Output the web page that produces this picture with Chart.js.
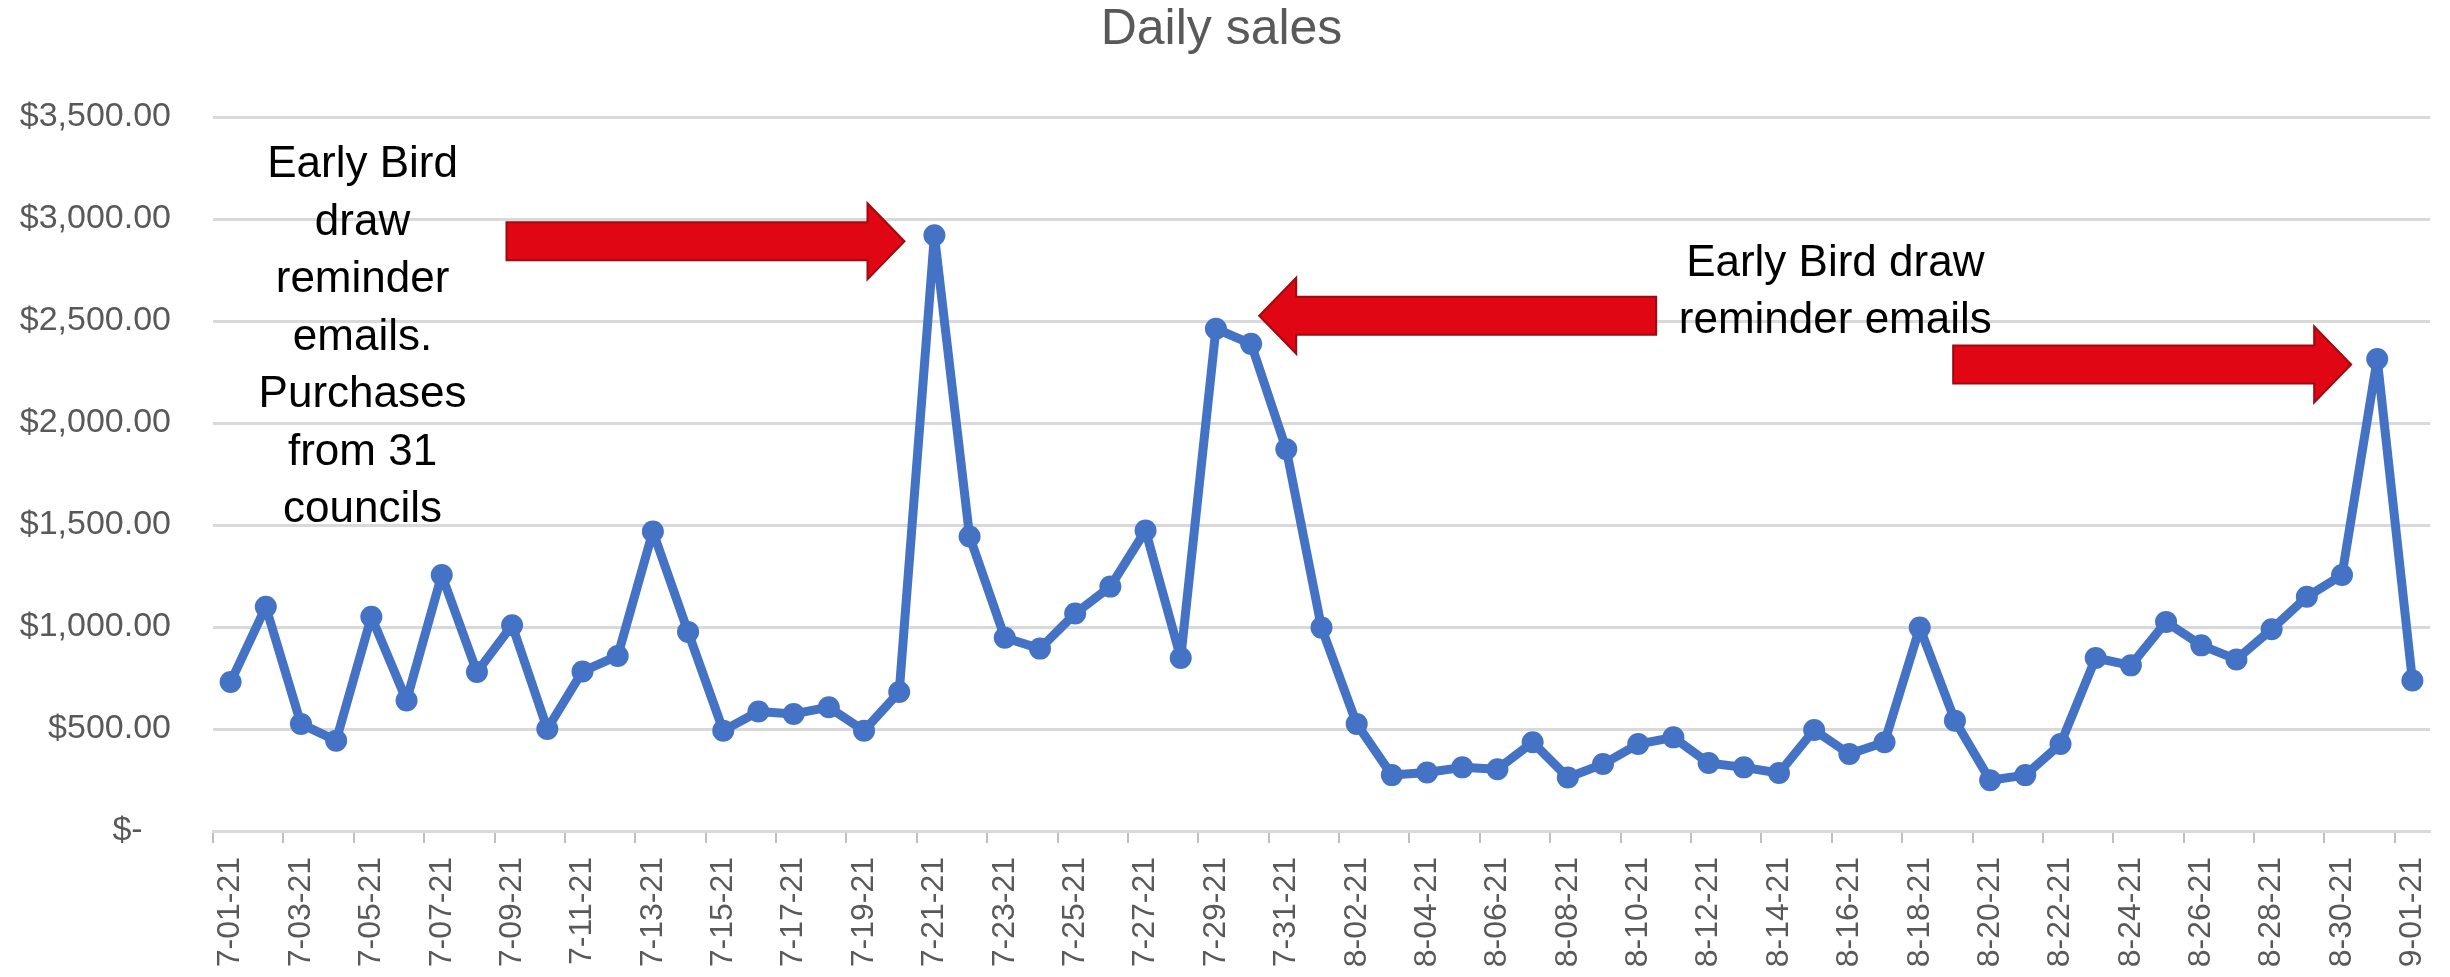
<!DOCTYPE html>
<html>
<head>
<meta charset="utf-8">
<script src="https://cdn.jsdelivr.net/npm/chart.js@4/dist/chart.umd.min.js"></script>
<style>
  html, body { margin: 0; padding: 0; background: #fff; }
</style>
</head>
<body>
<canvas id="salesChart" width="2450" height="977"></canvas>
<script>
// dates on the x axis (one per day)
const days = [
  '7-01-21', '7-02-21', '7-03-21', '7-04-21', '7-05-21', '7-06-21', '7-07-21', '7-08-21',
  '7-09-21', '7-10-21', '7-11-21', '7-12-21', '7-13-21', '7-14-21', '7-15-21', '7-16-21',
  '7-17-21', '7-18-21', '7-19-21', '7-20-21', '7-21-21', '7-22-21', '7-23-21', '7-24-21',
  '7-25-21', '7-26-21', '7-27-21', '7-28-21', '7-29-21', '7-30-21', '7-31-21', '8-01-21',
  '8-02-21', '8-03-21', '8-04-21', '8-05-21', '8-06-21', '8-07-21', '8-08-21', '8-09-21',
  '8-10-21', '8-11-21', '8-12-21', '8-13-21', '8-14-21', '8-15-21', '8-16-21', '8-17-21',
  '8-18-21', '8-19-21', '8-20-21', '8-21-21', '8-22-21', '8-23-21', '8-24-21', '8-25-21',
  '8-26-21', '8-27-21', '8-28-21', '8-29-21', '8-30-21', '8-31-21', '9-01-21'
];

// daily sales in dollars
const sales = [
  730, 1099, 525, 443, 1050, 640, 1255, 779,
  1009, 500, 782, 858, 1468, 976, 492, 586,
  574, 607, 492, 681, 2920, 1444, 947, 894,
  1066, 1198, 1473, 848, 2462, 2388, 1871, 997,
  525, 274, 287, 312, 303, 435, 262, 328,
  426, 459, 333, 312, 284, 495, 377, 435,
  997, 541, 249, 274, 426, 848, 812, 1025,
  910, 841, 989, 1148, 1255, 2314, 738
];

const yMin = 0;
const yMax = 3500;
const yStep = 500;

// callouts, placed in data units (category index, dollars)
const arrows = [
  { from: 7.84, to: 19.15, value: 2891 },
  { from: 40.51, to: 29.23, value: 2526 },
  { from: 48.95, to: 60.26, value: 2287 }
];
const notes = [
  { at: 3.75, value: 3205, lines: ['Early Bird', 'draw', 'reminder', 'emails.', 'Purchases', 'from 31', 'councils'] },
  { at: 45.6, value: 2723, lines: ['Early Bird draw', 'reminder emails'] }
];

function money(v) {
  if (v === 0) return '$-   ';
  return '$' + v.toLocaleString('en-US', { minimumFractionDigits: 2, maximumFractionDigits: 2 });
}

const calloutPlugin = {
  id: 'callouts',
  afterDatasetsDraw(chart) {
    const ctx = chart.ctx;
    const xs = chart.scales.x;
    const ys = chart.scales.y;

    arrows.forEach(a => {
      const x1 = xs.getPixelForValue(a.from);
      const x2 = xs.getPixelForValue(a.to);
      const y = ys.getPixelForValue(a.value);
      const dir = x2 > x1 ? 1 : -1;
      const headLen = 37;
      const bodyHalf = 19;
      const headHalf = 38;
      const hx = x2 - dir * headLen;
      ctx.save();
      ctx.beginPath();
      ctx.moveTo(x1, y - bodyHalf);
      ctx.lineTo(hx, y - bodyHalf);
      ctx.lineTo(hx, y - headHalf);
      ctx.lineTo(x2, y);
      ctx.lineTo(hx, y + headHalf);
      ctx.lineTo(hx, y + bodyHalf);
      ctx.lineTo(x1, y + bodyHalf);
      ctx.closePath();
      ctx.fillStyle = '#E00613';
      ctx.fill();
      ctx.lineWidth = 2;
      ctx.strokeStyle = '#9E0B0F';
      ctx.stroke();
      ctx.restore();
    });

    notes.forEach(n => {
      const x = xs.getPixelForValue(n.at);
      const y0 = ys.getPixelForValue(n.value);
      ctx.save();
      ctx.font = '44px "Liberation Sans", Arial, sans-serif';
      ctx.fillStyle = '#000';
      ctx.textAlign = 'center';
      ctx.textBaseline = 'alphabetic';
      n.lines.forEach((t, i) => ctx.fillText(t, x, y0 + i * 57.5));
      ctx.restore();
    });
  }
};

const ctx = document.getElementById('salesChart').getContext('2d');
const salesChart = new Chart(ctx, {
  type: 'line',
  data: {
    labels: days,
    datasets: [{
      label: 'Daily sales',
      data: sales,
      borderColor: '#4472C4',
      backgroundColor: '#4472C4',
      borderWidth: 9,
      borderJoinStyle: 'round',
      borderCapStyle: 'round',
      pointRadius: 11,
      pointBorderWidth: 0,
      tension: 0,
      fill: false
    }]
  },
  options: {
    responsive: false,
    animation: false,
    layout: { padding: { left: 13, right: 20, top: 0, bottom: 0 } },
    plugins: {
      legend: { display: false },
      tooltip: { enabled: false },
      title: {
        display: true,
        text: 'Daily sales',
        color: '#595959',
        font: { family: '"Liberation Sans", Arial, sans-serif', size: 50, weight: 'normal' },
        padding: { top: 0, bottom: 57 }
      }
    },
    scales: {
      x: {
        offset: true,
        grid: {
          offset: true,
          drawOnChartArea: false,
          drawTicks: true,
          tickLength: 12,
          lineWidth: 2,
          color: c => (c.index % 2 === 0 ? '#BFBFBF' : 'rgba(0,0,0,0)')
        },
        border: { color: '#D9D9D9', width: 3 },
        ticks: {
          autoSkip: false,
          maxRotation: 90,
          minRotation: 90,
          padding: 14,
          color: '#595959',
          font: { family: '"Liberation Sans", Arial, sans-serif', size: 32 },
          callback: (v, i) => (i % 2 === 0 ? days[i] : '')
        },
        afterFit: s => {
          s.height = 146;
          s.paddingLeft = 0;
          s.paddingRight = 0;
        }
      },
      y: {
        min: yMin,
        max: yMax,
        grid: { color: '#D9D9D9', lineWidth: 3, drawTicks: false },
        border: { display: false },
        ticks: {
          stepSize: yStep,
          padding: 42,
          color: '#595959',
          font: { family: '"Liberation Sans", Arial, sans-serif', size: 34 },
          callback: v => money(v)
        },
        afterFit: s => { s.width = 200; }
      }
    }
  },
  plugins: [calloutPlugin]
});
</script>
</body>
</html>
